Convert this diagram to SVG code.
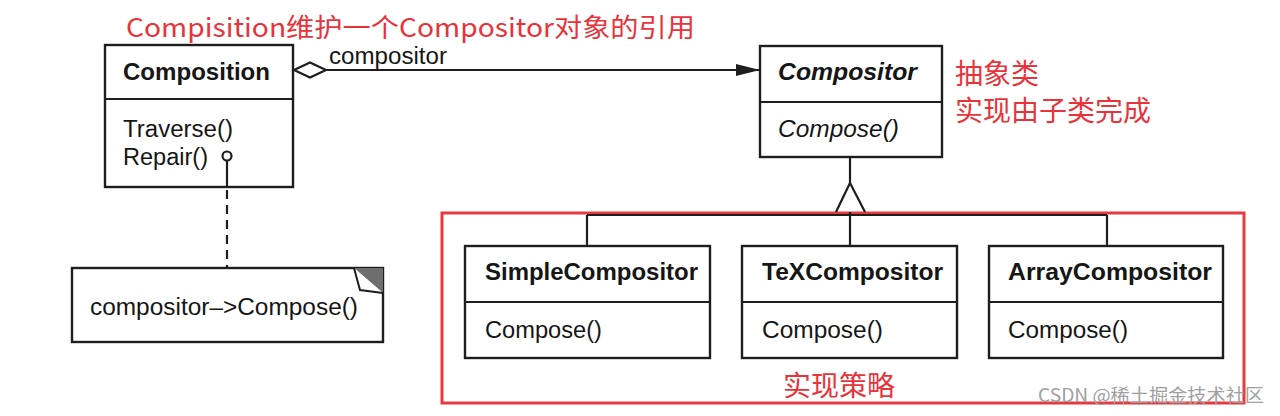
<svg xmlns="http://www.w3.org/2000/svg" width="1280" height="416" viewBox="0 0 1280 416">
<style>
.box{fill:#fff;stroke:#1e1e1e;stroke-width:2.4}
.ln{stroke:#1e1e1e;stroke-width:2.2;fill:none}
.t{font-family:"Liberation Sans",Arial,sans-serif;font-size:23px;fill:#161616}
.b{font-weight:bold}
.i{font-style:italic}
.red{font-family:"Noto Sans CJK SC","Microsoft YaHei",sans-serif;fill:#e8333a}
</style>
<defs>
<marker id="arrow" viewBox="0 0 24 12" refX="23" refY="6" markerWidth="24" markerHeight="12" markerUnits="userSpaceOnUse" orient="auto">
<path d="M0,0 L24,6 L0,12 Z" fill="#1e1e1e"/>
</marker>
</defs>
<rect width="1280" height="416" fill="#fff"/>

<g id="strategy-frame">
<rect x="442" y="213" width="802" height="190" fill="none" stroke="#e53a3f" stroke-width="3"/>
</g>

<g id="composition">
<rect class="box" x="105" y="45" width="188" height="142"/>
<line class="ln" x1="105" y1="99" x2="293" y2="99"/>
<text class="t b" x="123" y="80" textLength="147" lengthAdjust="spacingAndGlyphs">Composition</text>
<text class="t" x="123" y="137" textLength="110" lengthAdjust="spacingAndGlyphs">Traverse()</text>
<text class="t" x="123" y="165" textLength="85" lengthAdjust="spacingAndGlyphs">Repair()</text>
</g>

<g id="note">
<rect class="box" x="72" y="268" width="311" height="74"/>
<path d="M354,268 L383,268 L383,293 Z" fill="#6e6e6e"/>
<path d="M354,268 L360,290 L383,293" fill="#fff" stroke="#1e1e1e" stroke-width="2"/>
<text class="t" x="90" y="315" textLength="268" lengthAdjust="spacingAndGlyphs">compositor–&gt;Compose()</text>
</g>

<g id="compositor">
<rect class="box" x="760" y="46" width="182" height="111"/>
<line class="ln" x1="760" y1="102" x2="942" y2="102"/>
<text class="t b i" x="778" y="80" textLength="139" lengthAdjust="spacingAndGlyphs">Compositor</text>
<text class="t i" x="778" y="137" textLength="121" lengthAdjust="spacingAndGlyphs">Compose()</text>
</g>

<g id="simpleCompositor">
<rect class="box" x="465" y="246" width="245" height="112"/>
<line class="ln" x1="465" y1="302" x2="710" y2="302"/>
<text class="t b" x="485" y="280" textLength="213" lengthAdjust="spacingAndGlyphs">SimpleCompositor</text>
<text class="t" x="485" y="338" textLength="117" lengthAdjust="spacingAndGlyphs">Compose()</text>
</g>

<g id="texCompositor">
<rect class="box" x="742" y="246" width="215" height="112"/>
<line class="ln" x1="742" y1="302" x2="957" y2="302"/>
<text class="t b" x="762" y="280" textLength="181" lengthAdjust="spacingAndGlyphs">TeXCompositor</text>
<text class="t" x="762" y="338" textLength="121" lengthAdjust="spacingAndGlyphs">Compose()</text>
</g>

<g id="arrayCompositor">
<rect class="box" x="989" y="246" width="234" height="112"/>
<line class="ln" x1="989" y1="302" x2="1223" y2="302"/>
<text class="t b" x="1008" y="280" textLength="204" lengthAdjust="spacingAndGlyphs">ArrayCompositor</text>
<text class="t" x="1008" y="338" textLength="120" lengthAdjust="spacingAndGlyphs">Compose()</text>
</g>

<g id="connectors">
<line class="ln" x1="326" y1="70" x2="759" y2="70" marker-end="url(#arrow)"/>
<path d="M294,70 L310,62.5 L326,70 L310,77.5 Z" fill="#fff" stroke="#1e1e1e" stroke-width="2.2"/>
<text class="t" x="329" y="64" font-size="22" textLength="118" lengthAdjust="spacingAndGlyphs">compositor</text>
<line class="ln" x1="850" y1="157" x2="850" y2="183"/>
<path class="ln" d="M836,212 L850,183 L865,212"/>
<line class="ln" x1="587" y1="215" x2="1107" y2="215"/>
<line class="ln" x1="587" y1="215" x2="587" y2="246"/>
<line class="ln" x1="850" y1="212" x2="850" y2="246"/>
<line class="ln" x1="1107" y1="215" x2="1107" y2="246"/>
<circle cx="227" cy="156" r="4.5" fill="#fff" stroke="#1e1e1e" stroke-width="2.2"/>
<line class="ln" x1="227" y1="160.5" x2="227" y2="187"/>
<line class="ln" x1="227" y1="190" x2="227" y2="268" stroke-dasharray="9,6"/>
</g>

<g id="annotations">
<text class="red" x="126" y="37" font-size="26" textLength="569" lengthAdjust="spacingAndGlyphs">Compisition维护一个Compositor对象的引用</text>
<text class="red" x="955" y="84" font-size="28">抽象类</text>
<text class="red" x="955" y="121" font-size="28">实现由子类完成</text>
<text class="red" x="783" y="396" font-size="28">实现策略</text>
<text x="1038" y="402" font-family="'Noto Sans CJK SC',sans-serif" font-size="18" fill="#a0a0a0" textLength="226" lengthAdjust="spacingAndGlyphs">CSDN @稀土掘金技术社区</text>
</g>
</svg>
